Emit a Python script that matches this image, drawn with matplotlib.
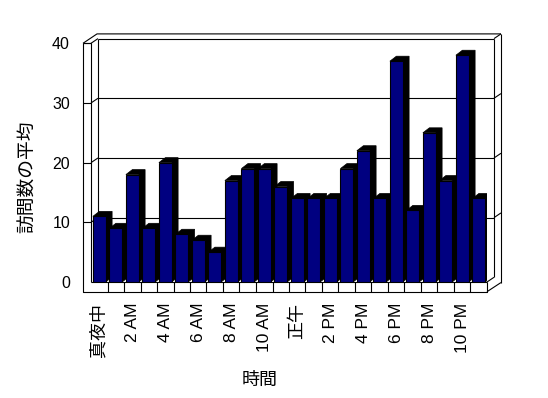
import matplotlib
matplotlib.use("Agg")
import matplotlib.pyplot as plt
from matplotlib.patches import Polygon

plt.rcParams['font.family'] = ['Liberation Sans', 'Noto Sans CJK JP']

# ---- data ----
hours = list(range(24))
visits = [11, 9, 18, 9, 20, 8, 7, 5, 17, 19, 19, 16,
          14, 14, 14, 19, 22, 14, 37, 12, 25, 17, 38, 14]
xtick_pos = list(range(0, 24, 2))
xtick_labels = ['真夜中', '2 AM', '4 AM', '6 AM', '8 AM', '10 AM',
                '正午', '2 PM', '4 PM', '6 PM', '8 PM', '10 PM']
ytick_vals = [0, 10, 20, 30, 40]
xlabel = '時間'
ylabel = '訪問数の平均'

W, H = 548, 398
fig = plt.figure(figsize=(W / 100, H / 100), dpi=100)
fig.patch.set_facecolor('white')

# front plane of the 3-D box, in pixels
PX_L, PX_R, PX_B, PX_T = 91, 487, 282, 43.3
ax = fig.add_axes([PX_L / W, 1 - PX_B / H, (PX_R - PX_L) / W, (PX_B - PX_T) / H])
ax.set_xlim(-0.5, 23.5)
ax.set_ylim(0, 40)
for s in ax.spines.values():
    s.set_visible(False)
ax.patch.set_alpha(0)

SX = (PX_R - PX_L) / 24.0      # px per category
SY = (PX_B - PX_T) / 40.0      # px per unit
DX, DY = 7 / SX, 4.7 / SY      # depth step
WALL = 8 / SX                  # left wall thickness
FLOOR = 9.7 / SY               # floor thickness
BDX, BDY = 6.5 / SX, 5 / SY    # bar depth

xl, xr = -0.5, 23.5
xo = xl - WALL
lk = dict(color='black', lw=0.8, clip_on=False, solid_capstyle='butt', zorder=1)

def line(xs, ys, **kw):
    d = dict(lk); d.update(kw)
    ax.plot(xs, ys, **d)

# front L outline
line([xo, xo, xr, xr], [40, -FLOOR, -FLOOR, 0])
line([xl, xr], [0, 0])
line([xl, xl], [0, 40])
line([xo, xl], [40, 40])
# floor ticks
for k in range(23):
    line([k + 0.5, k + 0.5], [0, -FLOOR])
# left wall ticks & slants
for v in ytick_vals[1:]:
    line([xo, xl], [v, v])
    line([xl, xl + DX], [v, v + DY])
# outer top-left slant & top
line([xo, xo + 2 * DX, xr + 2 * DX], [40, 40 + 2 * DY, 40 + 2 * DY])
# back wall front face: top, gridlines, right edge
for v in ytick_vals[1:]:
    line([xl + DX, xr + DX], [v + DY, v + DY])
    line([xr + DX, xr + 2 * DX], [v + DY, v + 2 * DY])
line([xl + DX, xl + DX], [DY, 40 + DY])
line([xr + DX, xr + DX], [DY, 40 + DY])
line([xr + 2 * DX, xr + 2 * DX], [-FLOOR + 1.95 * DY, 40 + 2 * DY])
# floor right end
line([xr, xr + DX], [0, DY])
line([xr, xr + 2 * DX], [-FLOOR, -FLOOR + 1.95 * DY])

# bars
bars = ax.bar(hours, visits, width=0.77, color='#000080', edgecolor='black',
              linewidth=0.8, zorder=3)
for r in bars:
    x0, x1, v = r.get_x(), r.get_x() + r.get_width(), r.get_height()
    poly = Polygon([(x0, v), (x0 + BDX, v + BDY), (x1 + BDX, v + BDY),
                    (x1 + BDX, BDY), (x1, 0), (x1, v)],
                   closed=True, facecolor='black', edgecolor='black', lw=0.5, zorder=2)
    ax.add_patch(poly)

# ticks
ax.set_yticks(ytick_vals)
ax.set_yticklabels([str(v) for v in ytick_vals], fontsize=11.5)
ax.tick_params(axis='y', length=0, pad=(PX_L - 70) * 0.72)
ax.set_xticks(xtick_pos)
ax.set_xticklabels(xtick_labels, rotation=90, fontsize=12.5, va='top', ha='center')
ax.tick_params(axis='x', length=0, pad=(303 - PX_B) * 0.72)
for t in ax.get_xticklabels():
    if not t.get_text()[0].isdigit():
        t.set_fontsize(13)

fig.text(260 / W, 1 - 380 / H, xlabel, fontsize=13, ha='center', va='center')
fig.text(28.5 / W, 1 - 176.5 / H, ylabel, fontsize=13.5, ha='center', va='center',
         rotation=90)

fig.savefig('out.png', dpi=100, facecolor='white')
